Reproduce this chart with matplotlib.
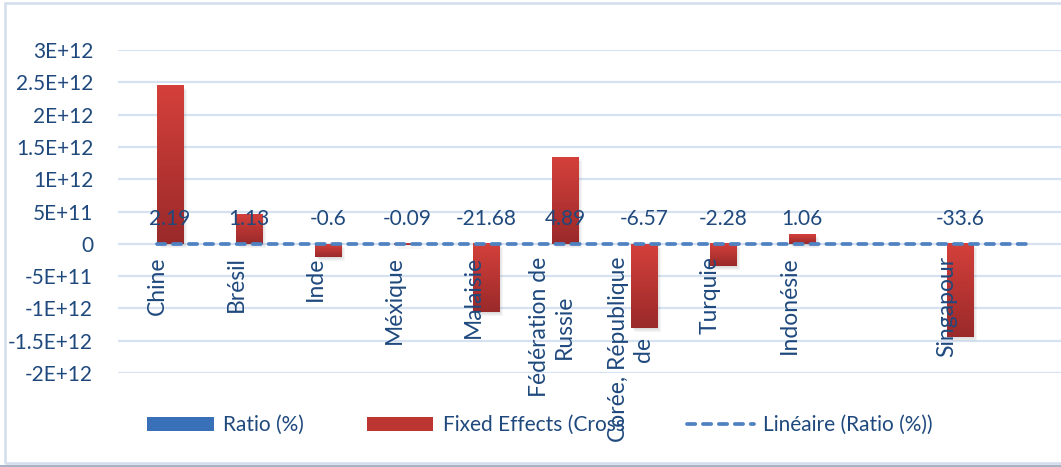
import numpy as np
import matplotlib
matplotlib.use("Agg")
import matplotlib.pyplot as plt
from matplotlib.colors import LinearSegmentedColormap
from matplotlib.patches import Rectangle
from matplotlib.lines import Line2D
from matplotlib.transforms import ScaledTranslation

# pays (deux catégories vides dans la feuille source)
pays = ["Chine", "Brésil", "Inde", "Méxique", "Malaisie", "Fédération de\nRussie",
        "Corée, République\nde", "Turquie", "Indonésie", "", "Singapour", ""]
ratio = [2.19, 1.13, -0.6, -0.09, -21.68, 4.89, -6.57, -2.28, 1.06, np.nan, -33.6, np.nan]
fixed_effects = [2.45e12, 0.45e12, -0.2e12, -0.02e12, -1.06e12, 1.34e12, -1.30e12,
                 -0.35e12, 0.15e12, np.nan, -1.44e12, np.nan]
yticks = [3e12, 2.5e12, 2e12, 1.5e12, 1e12, 5e11, 0, -5e11, -1e12, -1.5e12, -2e12]
ytick_labels = ["3E+12", "2.5E+12", "2E+12", "1.5E+12", "1E+12", "5E+11", "0",
                "-5E+11", "-1E+12", "-1.5E+12", "-2E+12"]

TXT = "#1F497D"
FS = 15
plt.rcParams["font.family"] = ["Lato", "DejaVu Sans"]
plt.rcParams["font.size"] = FS

fig = plt.figure(figsize=(10.61, 4.67), dpi=100)
W, H = 1061, 467
ax = fig.add_axes([117.5 / W, 1 - 373 / H, 948 / W, 323 / H])

# axe des catégories sur le zéro (avant de poser les étiquettes)
ax.spines["bottom"].set_position(("data", 0))
for s in ax.spines.values():
    s.set_color("none")

x = np.arange(len(pays))
ratio = np.array(ratio, dtype=float)
fe = np.array(fixed_effects, dtype=float)
bw = 0.33

# quadrillage horizontal sous les barres
for yt in yticks:
    ax.axhline(yt, color="#D6E1F1", lw=1.6, zorder=0.5)

# série Ratio (%) : minuscule à cette échelle
ax.bar(x - bw / 2, np.nan_to_num(ratio), width=bw, color="#3F76C0", zorder=3)

# série Fixed Effects avec dégradé et ombre
red_cmap = LinearSegmentedColormap.from_list("rouge", ["#9A2A2A", "#D4403B"])
for xi, h in zip(x, fe):
    if np.isnan(h):
        continue
    y0, y1 = min(0, h), max(0, h)
    left = xi
    for k in range(1, 5):
        off = ScaledTranslation(k / 100, -k / 100, fig.dpi_scale_trans)
        ax.add_patch(Rectangle((left, y0), bw, y1 - y0, transform=ax.transData + off,
                               facecolor="#7f7f7f", edgecolor="none", alpha=0.07, zorder=2.5))
    grad = np.linspace(0, 1, 64).reshape(-1, 1)
    ax.imshow(grad, extent=(left, left + bw, y0, y1), origin="lower", cmap=red_cmap,
              aspect="auto", zorder=3, interpolation="bilinear")

# tendance linéaire sur Ratio (%)
ok = ~np.isnan(ratio)
coef = np.polyfit(x[ok], ratio[ok], 1)
ax.plot(x, np.polyval(coef, x), color="#5082C2", lw=2.7, dashes=(2.2, 2.05),
        dash_capstyle="round", zorder=4)

# étiquettes de données
for xi, r in zip(x, ratio):
    if np.isnan(r):
        continue
    ax.text(xi + bw / 2, 0.39e12, f"{r:g}", ha="center", va="center", color=TXT,
            fontsize=FS, zorder=5)

ax.set_xlim(-0.5, len(pays) - 0.5)
ax.set_ylim(-2e12, 3e12)
ax.set_yticks(yticks)
ax.set_yticklabels(ytick_labels)
ax.set_xticks(x)
ax.set_xticklabels(pays, rotation=90, multialignment="center", linespacing=1.25)
ax.tick_params(axis="x", length=0, pad=9, colors=TXT, labelsize=16.5)
ax.tick_params(axis="y", length=0, pad=17.5, colors=TXT, labelsize=FS)
ax.grid(False)
ax.set_axisbelow(False)
ax.xaxis.set_zorder(6)
ax.yaxis.set_zorder(6)

# légende
handles = [
    Rectangle((0, 0), 1, 1, facecolor="#3A70B8", edgecolor="none"),
    Rectangle((0, 0), 1, 1, facecolor="#BE3632", edgecolor="none"),
    Line2D([], [], color="#5082C2", lw=2.7, dashes=(2.2, 2.05), dash_capstyle="round"),
]
fig.legend(handles, ["Ratio (%)", "Fixed Effects (Cross", "Linéaire (Ratio (%))"],
           loc="center", bbox_to_anchor=(540 / W, 1 - 425 / H), ncol=3, frameon=False,
           handlelength=3.2, handleheight=0.65, handletextpad=0.45, columnspacing=3.0,
           labelcolor=TXT, fontsize=FS)

# cadre du graphique
fig.add_artist(Line2D([0, 1], [1.5 / H, 1.5 / H], transform=fig.transFigure,
                      color="#A7B2C2", lw=1.5))
fig.patches.append(Rectangle((5 / W, 4 / H), 1.1, 1 - 7 / H, transform=fig.transFigure,
                             facecolor="none", edgecolor="#D3DDEB", lw=1.8))

fig.savefig("out.png", dpi=100)
